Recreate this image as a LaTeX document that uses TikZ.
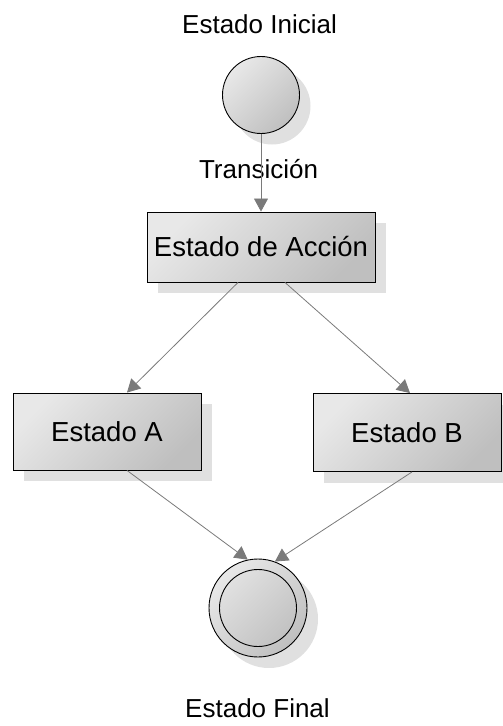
\documentclass[tikz,border=0pt]{standalone}
\usepackage{fontspec}
\setmainfont{Liberation Sans}
\usetikzlibrary{shadows,arrows.meta}
\definecolor{edgegray}{HTML}{7A7A7A}

\begin{document}
\begin{tikzpicture}
[x=1pt,y=-1pt,every node/.style={font=\fontsize{26}{30}\selectfont,inner sep=0pt},
 state/.style={draw=black,line width=0.9pt,top color=black!9,bottom color=black!25,shading angle=45,
  font=\fontsize{27.5}{32}\selectfont,
  drop shadow={shadow xshift=11pt,shadow yshift=-11pt,fill=black!12,opacity=1}},
 trans/.style={draw=edgegray,line width=0.8pt,-{Triangle[length=13pt,width=14pt]}}]
\useasboundingbox (0,0) rectangle (503,726);
\node[anchor=base] (tini) at (259.5,33) {Estado Inicial};
\node[state,circle,minimum size=77pt] (ini) at (261,95) {};
\node[anchor=base] (ttr) at (258.5,178) {Transición};
\node[state,minimum width=228pt,minimum height=70pt] (act) at (261,247) {Estado de Acción};
\node[state,minimum width=188pt,minimum height=77pt] (sa) at (107,431.5) {Estado A};
\node[state,minimum width=188pt,minimum height=78pt] (sb) at (407,432.5) {Estado B};
\node[state,circle,minimum size=98pt] (fin) at (258,608) {};
\node[draw=black,line width=0.9pt,circle,minimum size=77pt,top color=black!12,bottom color=black!24,shading angle=45] (fin2) at (fin) {};
\node[anchor=base] (tfin) at (257.5,717) {Estado Final};
\foreach \from/\fx/\to/\tx in {ini.south/0/act.north/0,act.south/-23/sa.north/20,
  act.south/24/sb.north/3,sa.south/20/fin.102/0,sb.south/5/fin.70/0}
\draw[trans] ([xshift=\fx pt]\from) -- ([xshift=\tx pt]\to);
\end{tikzpicture}
\end{document}
